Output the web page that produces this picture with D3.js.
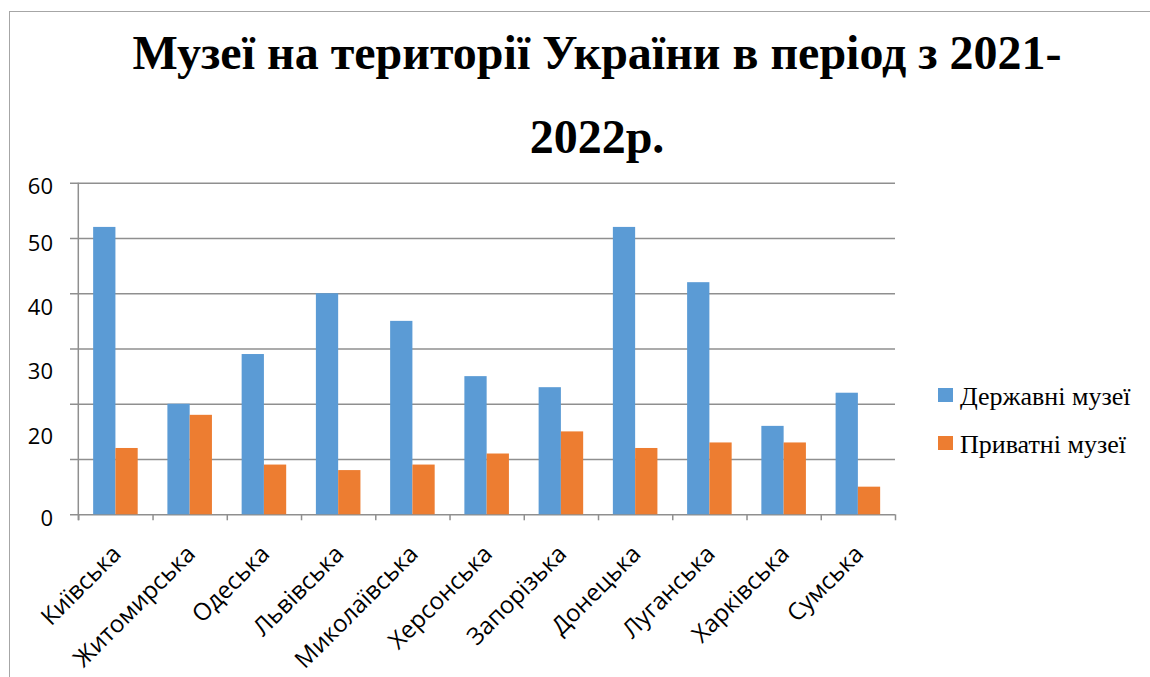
<!DOCTYPE html>
<html>
<head>
<meta charset="utf-8">
<script src="https://cdn.jsdelivr.net/npm/d3@7.9.0/dist/d3.min.js"></script>
<style>
  body { margin: 0; background: #fff; }
  svg { display: block; }
</style>
</head>
<body>
<script>
// Chart data
const regions = ["Київська", "Житомирська", "Одеська", "Львівська", "Миколаївська", "Херсонська",
                 "Запорізька", "Донецька", "Луганська", "Харківська", "Сумська"];
const stateMuseums = [52, 20, 29, 40, 35, 25, 23, 52, 42, 16, 22];
const privateMuseums = [12, 18, 9, 8, 9, 11, 15, 12, 13, 13, 5];
const seriesNames = ["Державні музеї", "Приватні музеї"];
const gridValues = [0, 10, 20, 30, 40, 50, 60];
// y labels as they appear in the picture (they drift off the gridlines)
const yLabels = ["60", "50", "40", "30", "20", "0"];
const yLabelAt = [59.4, 49.1, 37.5, 25.8, 14.1, -0.7];
const titleLines = ["Музеї на території України в період з 2021-", "2022р."];

const width = 1150, height = 677;
const plot = { left: 78.3, right: 895, top: 182.7, bottom: 514.3 };
const colors = ["#5B9BD5", "#ED7D31"];

const svg = d3.select("body").append("svg")
    .attr("width", width)
    .attr("height", height);

// Chart border (runs off the right and bottom)
svg.append("rect")
    .attr("x", 9.5).attr("y", 11.5)
    .attr("width", width + 10).attr("height", height + 10)
    .attr("fill", "none")
    .attr("stroke", "#a6a6a6")
    .attr("stroke-width", 1);

// Title
svg.append("g").selectAll("text")
    .data(titleLines)
    .join("text")
    .attr("x", 597)
    .attr("y", (d, i) => 69 + i * 84)
    .attr("text-anchor", "middle")
    .style("font-family", "'Liberation Serif', 'Times New Roman', serif")
    .style("font-weight", "bold")
    .style("font-size", "48px")
    .attr("fill", "#000")
    .text(d => d);

// Scales
const y = d3.scaleLinear().domain([0, 60]).range([plot.bottom, plot.top]);
const x = d3.scaleBand().domain(regions)
    .range([plot.left, plot.right])
    .paddingInner(0.4).paddingOuter(0.2);
const xSub = d3.scaleBand().domain([0, 1]).range([0, x.bandwidth()]);
const xEdges = d3.scaleLinear().domain([0, regions.length]).range([plot.left, plot.right]);

// Gridlines (with short outer ticks on the left)
const grid = svg.append("g")
    .attr("transform", `translate(70,0)`)
    .call(d3.axisRight(y).tickValues(gridValues).tickSize(plot.right - 70).tickFormat(""));
grid.select(".domain").remove();
grid.selectAll("line").attr("stroke", "#8f8f8f").attr("stroke-width", 1.5);

// Vertical axis line
svg.append("line")
    .attr("x1", plot.left).attr("x2", plot.left)
    .attr("y1", plot.top).attr("y2", plot.bottom + 6)
    .attr("stroke", "#8f8f8f").attr("stroke-width", 1.5);

// Category boundary ticks
const xt = svg.append("g")
    .attr("transform", `translate(0,${plot.bottom})`)
    .call(d3.axisBottom(xEdges).tickValues(d3.range(0, regions.length + 1)).tickSize(6).tickFormat(""));
xt.select(".domain").remove();
xt.selectAll("line").attr("stroke", "#8f8f8f").attr("stroke-width", 1.5);

// Bars
const series = [stateMuseums, privateMuseums];
series.forEach((vals, s) => {
    svg.append("g").selectAll("rect")
        .data(vals)
        .join("rect")
        .attr("x", (d, i) => x(regions[i]) + xSub(s))
        .attr("y", d => y(d))
        .attr("width", xSub.bandwidth())
        .attr("height", d => y(0) - y(d))
        .attr("fill", colors[s]);
});

// Y labels
svg.append("g").selectAll("text")
    .data(yLabels)
    .join("text")
    .attr("x", 53)
    .attr("y", (d, i) => y(yLabelAt[i]))
    .attr("dy", "0.35em")
    .attr("text-anchor", "end")
    .style("font-family", "'Open Sans', sans-serif")
    .style("font-size", "22px")
    .attr("fill", "#000")
    .text(d => d);

// X labels, rotated
svg.append("g").selectAll("text")
    .data(regions)
    .join("text")
    .attr("transform", d => `translate(${x(d) + x.bandwidth() / 2 + 7},${plot.bottom + 41}) rotate(-45)`)
    .attr("text-anchor", "end")
    .style("font-family", "'Open Sans', sans-serif")
    .style("font-size", "24px")
    .attr("fill", "#000")
    .text(d => d);

// Legend
const legend = svg.append("g").selectAll("g")
    .data(seriesNames)
    .join("g")
    .attr("transform", (d, i) => `translate(938,${388 + i * 48})`);
legend.append("rect")
    .attr("width", 15).attr("height", 14)
    .attr("fill", (d, i) => colors[i]);
legend.append("text")
    .attr("x", 22).attr("y", 17)
    .style("font-family", "'Liberation Serif', 'Times New Roman', serif")
    .style("font-size", "26px")
    .attr("fill", "#000")
    .text(d => d);
</script>
</body>
</html>
